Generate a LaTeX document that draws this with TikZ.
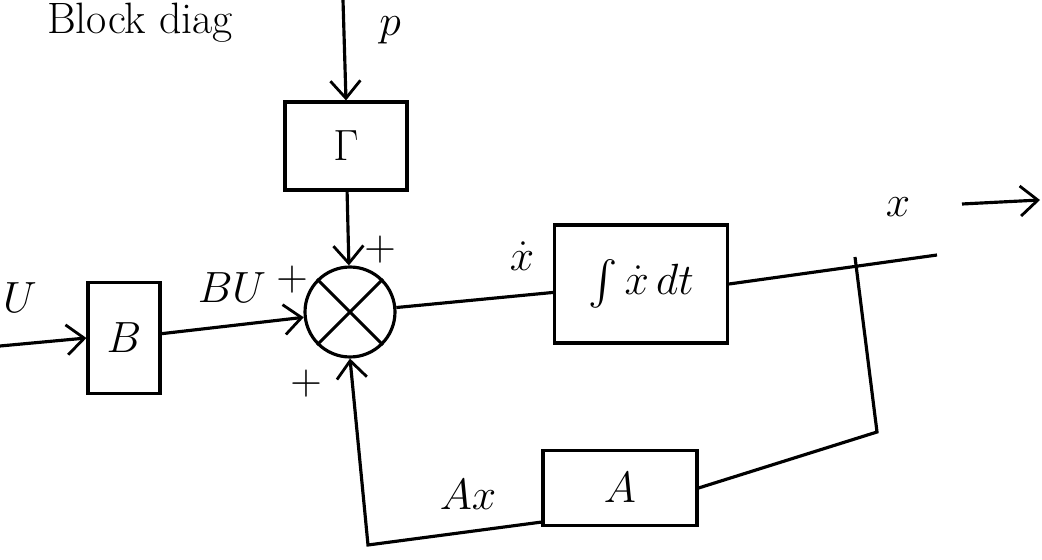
\documentclass[tikz,border=0pt]{standalone}
\usepackage{amsmath,amssymb}
\usetikzlibrary{arrows.meta,positioning,calc}
\tikzset{
    blk/.style={draw,line width=1.8pt,inner sep=0pt},
    sumnode/.style={circle,draw,line width=1.8pt,minimum size=1.8cm,inner sep=0pt},
    wire/.style={line width=1.8pt},
    arrow/.style={-{Straight Barb[length=3.5mm,width=6mm,line width=1.6pt]},line width=1.8pt},
    lbl/.style={inner sep=1pt}
}

\begin{document}
\begin{tikzpicture}[x=0.02cm,y=-0.02cm,every node/.style={font=\fontsize{25}{30}\selectfont}]
    \useasboundingbox (0,0) rectangle (1042,560);
    % heading
    \node[anchor=base west,lbl] (title) at (45,34) {Block diag};
    % blocks
    \node[blk,minimum width=1.44cm,minimum height=2.22cm] (B) at (124,338) {$B$};
    \node[blk,minimum width=2.44cm,minimum height=1.76cm] (G) at (346,146) {$\Gamma$};
    \node[sumnode] (sum) at (350,312) {};
    \draw[wire] (sum.north west) -- (sum.south east);
    \draw[wire] (sum.north east) -- (sum.south west);
    \node[blk,minimum width=3.46cm,minimum height=2.36cm] (int) at (641,284) {$\int \dot{x}\,dt$};
    \node[blk,minimum width=3.08cm,minimum height=1.5cm] (A) at (620,488) {$A$};
    % free ends and corners
    \coordinate (in) at (0,346);
    \coordinate (ptop) at (343,0);
    \coordinate (br) at (855,257);
    \coordinate (xend) at (937,255);
    \coordinate (k1) at (877,432);
    \coordinate (k2) at (368,545);
    \coordinate (o1) at (962,204);
    \coordinate (o2) at (1040,200);
    % labels
    \node[lbl] (U) at (20,298) {$U$};
    \node[lbl] (p) at (390,30) {$p$};
    \node[lbl] (BU) at (232,288) {$BU$};
    \node[lbl] (s1) at (292,280) {$+$};
    \node[lbl] (s2) at (380,250) {$+$};
    \node[lbl] (s3) at (306,384) {$+$};
    \node[lbl] (xdot) at (522,256) {$\dot{x}$};
    \node[lbl] (xlab) at (898,207) {$x$};
    \node[lbl] (Ax) at (468,495) {$Ax$};
    % connectors
    \draw[arrow] (in) -- (B.west);
    \draw[arrow] (B) -- (sum);
    \draw[arrow] (ptop) -- (G.north);
    \draw[arrow] (G) -- (sum);
    \draw[wire] (sum) -- (int);
    \draw[wire] (int.east) -- (xend);
    \draw[wire] (br) -- (k1) -- (A.east);
    \draw[arrow] ([yshift=0.1cm]A.south west) -- (k2) -- (sum.south);
    \draw[arrow] (o1) -- (o2);
\end{tikzpicture}
\end{document}
